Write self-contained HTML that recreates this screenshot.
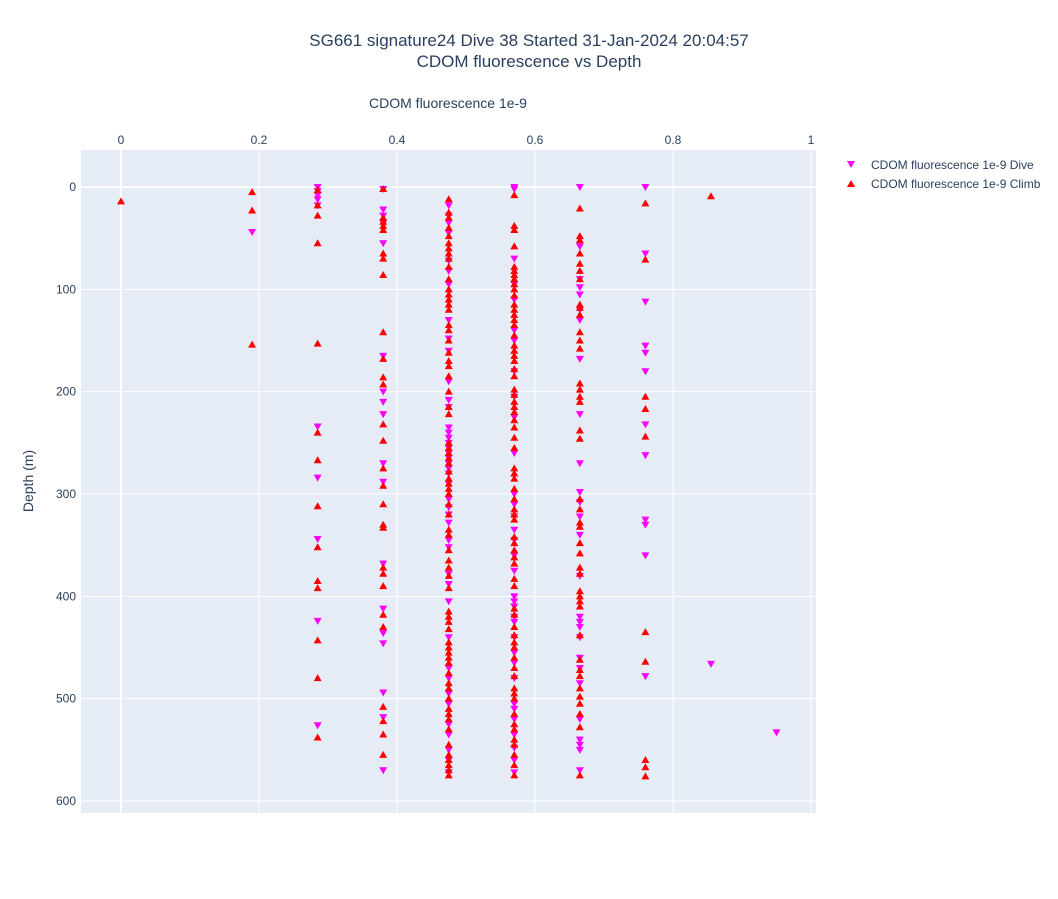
<!DOCTYPE html>
<html><head><meta charset="utf-8"><style>
body{margin:0;background:#fff;font-family:"Liberation Sans",Arial,sans-serif}
svg text{font-family:"Liberation Sans",Arial,sans-serif;fill:#2a3f5f}
</style></head><body>
<svg id="chart" width="1058" height="894" xmlns="http://www.w3.org/2000/svg">
<rect x="0" y="0" width="1058" height="894" fill="#fff"/>
<rect x="81" y="150" width="735" height="663" fill="#e5ecf6"/>
<g id="grid"></g>
<g id="marks"></g>
<text x="529" y="46" text-anchor="middle" font-size="17">SG661 signature24 Dive 38 Started 31-Jan-2024 20:04:57</text>
<text x="529" y="67" text-anchor="middle" font-size="17">CDOM fluorescence vs Depth</text>
<text x="448" y="108" text-anchor="middle" font-size="14">CDOM fluorescence 1e-9</text>
<text x="33" y="481" text-anchor="middle" font-size="14" transform="rotate(-90 33 481)">Depth (m)</text>
<g>
<path d="M847,161 L855,161 L851,168 Z" fill="#ff00ff"/>
<text x="871" y="169" font-size="12">CDOM fluorescence 1e-9 Dive</text>
<path d="M847,187 L855,187 L851,180 Z" fill="#ff0000"/>
<text x="871" y="188" font-size="12">CDOM fluorescence 1e-9 Climb</text>
</g>
</svg>
<script>
const xTicks=[0,0.2,0.4,0.6,0.8,1];
const xTickLabels=["0","0.2","0.4","0.6","0.8","1"];
const yTicks=[0,100,200,300,400,500,600];
const yTickLabels=["0","100","200","300","400","500","600"];
const diveValue=[0.19,0.285,0.38,0.475,0.57,0.665,0.76,0.855,0.95];
const diveDepths=[
[44],
[0,4,8,12,18,234,284,344,424,526],
[2,22,28,35,55,165,200,210,222,270,288,368,412,436,446,494,518,570],
[18,28,35,45,72,82,95,130,148,160,190,208,215,235,240,245,250,255,260,265,270,275,280,290,305,313,320,328,345,352,378,388,405,440,470,480,495,505,525,535,550,560,572],
[0,2,70,95,110,140,150,180,205,225,260,300,310,322,335,345,360,375,400,405,410,420,425,440,455,465,480,505,510,520,535,548,560,572],
[0,58,90,98,105,120,130,168,222,270,298,308,322,340,380,420,425,430,440,460,470,485,520,540,545,550,570],
[0,65,112,155,162,180,232,262,325,330,360,478],
[466],
[533]];
const climbValue=[0,0.19,0.285,0.38,0.475,0.57,0.665,0.76,0.855];
const climbDepths=[
[14],
[5,23,154],
[3,18,28,55,153,240,267,312,352,385,392,443,480,538],
[2,30,34,38,42,65,70,86,142,168,186,193,232,248,275,292,310,330,333,372,378,390,418,430,508,522,535,555],
[12,25,30,40,48,55,60,65,70,78,90,100,105,110,115,120,135,140,150,162,170,175,185,200,215,222,250,255,260,265,270,278,285,290,295,300,310,320,335,340,355,365,372,380,392,415,420,425,432,445,450,455,460,465,475,485,490,500,510,515,520,530,545,555,560,565,570,575],
[8,38,42,58,78,82,86,90,95,100,106,115,120,125,130,135,145,155,160,165,170,178,185,198,203,210,215,220,228,235,245,255,275,280,285,295,305,315,320,325,342,348,355,362,368,383,390,412,418,430,438,445,450,460,470,478,490,495,500,515,525,530,540,545,555,565,575],
[21,48,52,65,75,82,90,115,118,125,142,150,158,192,198,205,210,238,246,305,315,328,332,348,358,372,378,395,400,405,410,438,462,472,478,490,498,505,515,528,575],
[16,71,205,217,244,435,464,560,567,576],
[9]];
const NS="http://www.w3.org/2000/svg";
const xs=v=>121+v*690;
const ys=d=>187+d*1.0233;
const grid=document.getElementById('grid');
const svg=document.getElementById('chart');
xTicks.forEach((t,i)=>{
  const l=document.createElementNS(NS,'line');
  
  
  l.setAttribute('x1',xs(t));l.setAttribute('x2',xs(t));l.setAttribute('y1',150);l.setAttribute('y2',813);
  l.setAttribute('stroke','#fff');l.setAttribute('stroke-width',t===0?2:1);
  grid.appendChild(l);
  const tx=document.createElementNS(NS,'text');
  
  
  tx.setAttribute('x',xs(t));tx.setAttribute('y',144);tx.setAttribute('text-anchor','middle');tx.setAttribute('font-size','12');
  tx.textContent=xTickLabels[i];svg.appendChild(tx);
});
yTicks.forEach((t,i)=>{
  const l=document.createElementNS(NS,'line');
  
  
  l.setAttribute('x1',81);l.setAttribute('x2',816);l.setAttribute('y1',ys(t));l.setAttribute('y2',ys(t));
  l.setAttribute('stroke','#fff');l.setAttribute('stroke-width',t===0?2:1);
  grid.appendChild(l);
  const tx=document.createElementNS(NS,'text');
  
  
  tx.setAttribute('x',76);tx.setAttribute('y',ys(t)+4);tx.setAttribute('text-anchor','end');tx.setAttribute('font-size','12');
  tx.textContent=yTickLabels[i];svg.appendChild(tx);
});
const marks=document.getElementById('marks');
function tri(x,y,down,color,name){
  const p=document.createElementNS(NS,'path');
  
  
  const d=down?`M${x-4},${y-3} L${x+4},${y-3} L${x},${y+4} Z`:`M${x-4},${y+3} L${x+4},${y+3} L${x},${y-4} Z`;
  p.setAttribute('d',d);p.setAttribute('fill',color);
  marks.appendChild(p);
}
diveValue.forEach((v,i)=>diveDepths[i].forEach(d=>tri(xs(v),ys(d),true,'#ff00ff','dive-point')));
climbValue.forEach((v,i)=>climbDepths[i].forEach(d=>tri(xs(v),ys(d),false,'#ff0000','climb-point')));
</script>
</body></html>
